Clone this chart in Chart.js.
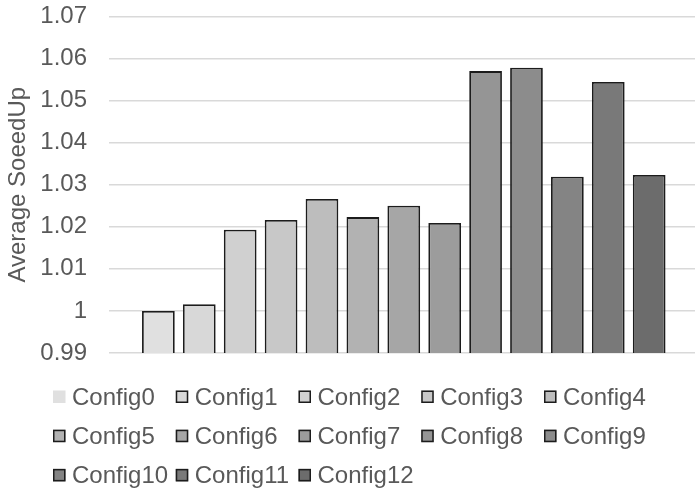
<!DOCTYPE html>
<html>
<head>
<meta charset="utf-8">
<script src="https://cdn.jsdelivr.net/npm/chart.js@4.4.1/dist/chart.umd.min.js"></script>
<style>
  html, body { margin: 0; padding: 0; background: #ffffff; }
  #wrap { width: 695px; height: 492px; }
</style>
</head>
<body>
<div id="wrap"><canvas id="chart" width="695" height="492"></canvas></div>
<script>
// Configurations compared and their average speedup
const configNames = ['Config0', 'Config1', 'Config2', 'Config3', 'Config4', 'Config5', 'Config6',
                     'Config7', 'Config8', 'Config9', 'Config10', 'Config11', 'Config12'];
const speedups = [1.0000, 1.0016, 1.0193, 1.0216, 1.0266, 1.0223, 1.0250,
                  1.0209, 1.0570, 1.0578, 1.0319, 1.0544, 1.0323];
const yTickValues = [0.99, 1.00, 1.01, 1.02, 1.03, 1.04, 1.05, 1.06, 1.07];

// Grey ramp, light to dark
const fillColors = ['#e0e0e0', '#d8d8d8', '#d0d0d0', '#c8c8c8', '#bdbdbd', '#b2b2b2', '#a6a6a6',
                    '#9c9c9c', '#959595', '#8c8c8c', '#848484', '#797979', '#6c6c6c'];
const legendOutlined = [false, true, true, true, true, true, true, true, true, true, true, true, true];

const FONT = '"Liberation Sans", Arial, Helvetica, sans-serif';
const TEXT = '#595959';
const EDGE = '#1c1c1c';

// Legend laid out on a fixed five-column grid under the plot
const gridLegend = {
  id: 'gridLegend',
  afterDraw(chart) {
    const ctx = chart.ctx;
    const area = chart.chartArea;
    const left = 53, colW = 122.75, rowH = 39.2;
    const top = area.bottom + 44;
    ctx.save();
    ctx.font = '24px ' + FONT;
    ctx.textBaseline = 'middle';
    ctx.textAlign = 'left';
    chart.data.datasets.forEach((ds, i) => {
      const x = left + (i % 5) * colW;
      const y = top + Math.floor(i / 5) * rowH;
      ctx.fillStyle = ds.backgroundColor;
      ctx.fillRect(x, y - 6.5, 12.5, 12.5);
      if (ds.legendOutline) {
        ctx.strokeStyle = EDGE;
        ctx.lineWidth = 1.5;
        ctx.strokeRect(x + 0.75, y - 5.75, 11, 11);
      }
      ctx.fillStyle = TEXT;
      ctx.fillText(ds.label, x + 19, y + 1);
    });
    ctx.restore();
  }
};

// One group of bars, all series sharing the single x position 0
const datasets = configNames.map((name, i) => ({
  label: name,
  data: [{ x: 0, y: speedups[i] }],
  backgroundColor: fillColors[i],
  borderColor: EDGE,
  borderWidth: 1.8,
  legendOutline: legendOutlined[i],
  barPercentage: 0.8,
  categoryPercentage: 0.9073
}));

new Chart(document.getElementById('chart'), {
  type: 'bar',
  data: { datasets },
  plugins: [gridLegend],
  options: {
    responsive: false,
    animation: false,
    devicePixelRatio: 1,
    layout: { padding: { top: 0, right: 0, bottom: 139, left: 0 } },
    plugins: {
      legend: { display: false },
      tooltip: { enabled: false }
    },
    scales: {
      x: {
        type: 'linear',
        display: false,
        min: -0.5,
        max: 0.488,
        afterBuildTicks(scale) { scale.ticks = [{ value: 0 }]; }
      },
      y: {
        min: 0.99,
        max: 1.07,
        afterBuildTicks(scale) {
          scale.ticks = yTickValues.map(v => ({ value: v }));
        },
        afterFit(scale) { scale.width = 109; },
        border: { display: false },
        grid: {
          color: '#d9d9d9',
          lineWidth: 1.5,
          drawTicks: true,
          tickLength: 20,
          tickColor: 'rgba(0,0,0,0)'
        },
        ticks: {
          padding: 2,
          color: TEXT,
          font: { family: FONT, size: 24 },
          callback: v => String(Number(v.toFixed(2)))
        },
        title: {
          display: true,
          text: 'Average SoeedUp',
          color: TEXT,
          font: { family: FONT, size: 24 },
          padding: { top: 4, bottom: 0 }
        }
      }
    }
  }
});
</script>
</body>
</html>
